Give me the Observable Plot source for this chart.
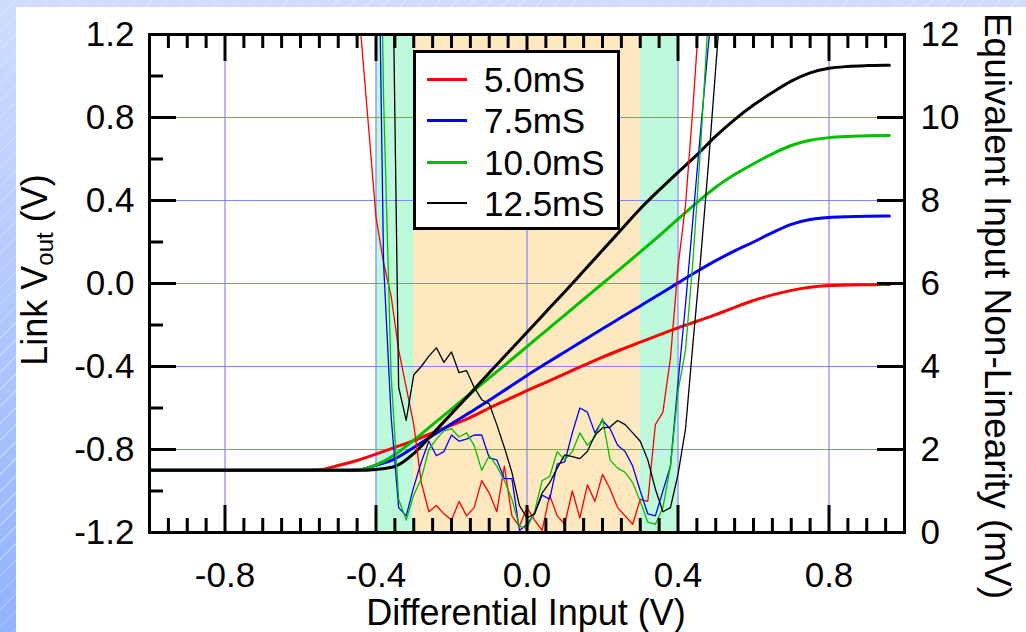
<!DOCTYPE html>
<html>
<head>
<meta charset="utf-8">
<script src="https://cdn.jsdelivr.net/npm/d3@7"></script>
<script src="https://cdn.jsdelivr.net/npm/@observablehq/plot@0.6"></script>
<style>
  html, body { margin: 0; padding: 0; }
  body {
    width: 1026px; height: 632px; overflow: hidden; position: relative;
    background:
      repeating-linear-gradient(135deg, rgba(255,255,255,0) 0 11px, rgba(255,255,255,0.35) 11px 12px),
      linear-gradient(#cfdcfd, #93b2fd);
    font-family: "Liberation Sans", Arial, Helvetica, sans-serif;
    color: #000;
  }
  #chart { position: absolute; left: 16px; top: 7px; }
  .title { position: absolute; white-space: nowrap; font-size: 36px; line-height: 36px; }
  .title sub { font-size: 24px; vertical-align: -6px; line-height: 0; }
  #legend {
    position: absolute; left: 413px; top: 50px; width: 207px; height: 180px;
    box-sizing: border-box; border: 3px solid #000; background: #fff;
  }
  .sw { position: absolute; left: 427px; width: 40px; }
  .lt { position: absolute; left: 484px; font-size: 35px; line-height: 35px; white-space: nowrap; }
</style>
</head>
<body>
<div id="chart"></div>

<div class="title" style="left:526px; top:613px; transform:translate(-50%,-50%);">Differential Input (V)</div>
<div class="title" style="left:35px; top:270px; transform:translate(-50%,-50%) rotate(-90deg);">Link V<sub>out</sub> (V)</div>
<div class="title" style="left:997px; top:306px; font-size:37px; transform:translate(-50%,-50%) rotate(90deg);">Equivalent Input Non-Linearity (mV)</div>

<div id="legend"></div>
<div id="legend-rows"></div>

<script>
// Conductance settings, one colour per setting
const seriesNames = ["5.0mS", "7.5mS", "10.0mS", "12.5mS"];
const seriesColors = ["#ff0000", "#0000ff", "#00c000", "#000000"];

// Link output voltage (V) against differential input (V) — left axis
const vinOut = [-1.0, -0.95, -0.9, -0.85, -0.8, -0.75, -0.7, -0.65, -0.6, -0.55, -0.5, -0.45, -0.4, -0.35, -0.3, -0.25, -0.2, -0.15, -0.1, -0.05,
  0, 0.05, 0.1, 0.15, 0.2, 0.25, 0.3, 0.35, 0.4, 0.45, 0.5, 0.55, 0.6, 0.65, 0.7, 0.75, 0.8, 0.85, 0.9, 0.95, 0.96];
const vout5_0 = [-0.9, -0.9, -0.9, -0.9, -0.9, -0.9, -0.9, -0.9, -0.9, -0.897, -0.877, -0.853, -0.822, -0.79, -0.757, -0.72, -0.683, -0.645, -0.6, -0.558,
  -0.516, -0.476, -0.435, -0.395, -0.355, -0.318, -0.283, -0.248, -0.214, -0.182, -0.15, -0.115, -0.082, -0.055, -0.033, -0.018, -0.01, -0.007, -0.006, -0.005, -0.005];
const vout7_5 = [-0.9, -0.9, -0.9, -0.9, -0.9, -0.9, -0.9, -0.9, -0.9, -0.9, -0.9, -0.899, -0.876, -0.845, -0.79, -0.733, -0.676, -0.62, -0.563, -0.503,
  -0.443, -0.386, -0.33, -0.274, -0.218, -0.163, -0.108, -0.053, 0.003, 0.058, 0.11, 0.157, 0.2, 0.245, 0.285, 0.308, 0.318, 0.322, 0.324, 0.325, 0.325];
const vout10_0 = [-0.9, -0.9, -0.9, -0.9, -0.9, -0.9, -0.9, -0.9, -0.9, -0.9, -0.9, -0.899, -0.874, -0.825, -0.755, -0.68, -0.605, -0.53, -0.455, -0.38,
  -0.304, -0.228, -0.152, -0.076, 0.0, 0.075, 0.152, 0.23, 0.31, 0.39, 0.464, 0.525, 0.577, 0.625, 0.665, 0.69, 0.703, 0.709, 0.712, 0.713, 0.713];
const vout12_5 = [-0.9, -0.9, -0.9, -0.9, -0.9, -0.9, -0.9, -0.9, -0.9, -0.9, -0.9, -0.9, -0.896, -0.882, -0.82, -0.725, -0.627, -0.53, -0.43, -0.333,
  -0.235, -0.137, -0.04, 0.06, 0.16, 0.26, 0.36, 0.45, 0.536, 0.62, 0.71, 0.79, 0.86, 0.92, 0.975, 1.015, 1.037, 1.046, 1.05, 1.052, 1.052];

// Equivalent input non-linearity (mV) — right axis; null where not measured
const vinNL = [-0.46, -0.44, -0.42, -0.40, -0.38, -0.36, -0.34, -0.32, -0.30, -0.28, -0.26, -0.24, -0.22, -0.20, -0.18, -0.16, -0.14, -0.12, -0.10, -0.08,
  -0.06, -0.04, -0.02, 0.00, 0.02, 0.04, 0.06, 0.08, 0.10, 0.12, 0.14, 0.16, 0.18, 0.20, 0.22, 0.24, 0.26, 0.28, 0.30, 0.32,
  0.34, 0.36, 0.38, 0.40, 0.42, 0.44, 0.46, 0.48, 0.50, 0.52];
const nl5_0 = [14, 12, 9.8, 7.6, 6.5, 5.7, 4.4, 3.5, 2.6, 1.2, 0.5, 0.65, 0.45, 0.3, 0.75, 0.4, 0.6, 1.25, 0.95, 0.5,
  1.6, 0.4, 0.15, 0.6, 0.3, 0.05, 0.9, 0.4, 0.2, 1.0, 0.35, 1.15, 0.75, 1.4, 1.05, 0.6, 0.4, 0.2, 0.8, 0.75,
  2.6, 2.9, 4.2, 6.4, 7.9, 10.3, 13, null, null, null];
const nl7_5 = [null, null, null, 19, 6.5, 2.8, 0.6, 0.4, 1.1, 1.7, 2.2, 1.85, 1.95, 2.35, 2.2, 2.25, 2.35, 2.35, 1.8, 1.75,
  1.3, 1.3, 0.05, 0.2, 0.45, 0.9, 0.8, 1.65, 1.7, 2.4, 3.0, 2.9, 2.4, 2.7, 2.5, 2.1, 1.95, 1.6, 1.0, 0.45,
  0.4, 1.0, 1.6, 3.6, 5.5, 7.6, 9.7, 11.7, 13.5, null];
const nl10_0 = [null, null, null, 22, 10.5, 3.8, 0.8, 0.3, 0.9, 1.3, 2.0, 2.25, 2.45, 2.5, 2.3, 2.4, 2.1, 1.5, 1.85, 1.6,
  1.25, 0.8, 0.15, 0.1, 0.5, 1.25, 1.35, 1.95, 1.75, 1.95, 2.4, 2.1, 2.3, 2.75, 1.75, 1.55, 1.45, 1.2, 0.75, 0.25,
  0.2, 0.6, 1.6, 3.4, 4.4, 6.6, 9.3, 12.4, 14, null];
const nl12_5 = [null, null, null, null, null, 16.6, 3.5, 2.7, 3.8, 4.0, 4.25, 4.45, 4.1, 4.35, 3.85, 3.9, 3.5, 3.2, 3.1, 2.6,
  2.05, 1.45, 0.65, 0.35, 0.45, 0.95, 1.2, 1.55, 1.87, 1.83, 1.78, 1.95, 2.35, 2.52, 2.54, 2.7, 2.6, 2.4, 2.2, 1.75,
  1.05, 0.5, 0.6, 1.4, 2.5, 4.6, 6.6, 8.8, 11.2, 13.6];

// Shaded input ranges
const bandEdges = [-0.4, -0.3, 0.3, 0.4];
const bandColors = ["#bff9dc", "#fee8c0", "#bff9dc"];

// Axis ticks
const xMajor = [-0.8, -0.4, 0, 0.4, 0.8];
const xMinor = d3.range(-19, 20).map(i => i * 0.05).filter(v => Math.abs(v / 0.4 - Math.round(v / 0.4)) > 1e-6);
const yLabels = [-1.2, -0.8, -0.4, 0, 0.4, 0.8, 1.2];
const yMajor = [-0.8, -0.4, 0, 0.4, 0.8];
const yMinor = [-1.0, -0.6, -0.2, 0.2, 0.6, 1.0];
const mvTicks = [0, 2, 4, 6, 8, 10, 12];
const mvLongTicks = [2, 4, 6, 8, 10];

// mV on the right axis shares the left axis' pixel range: 0 mV ↔ -1.2 V, 12 mV ↔ 1.2 V
const mvToV = mv => -1.2 + mv * 0.2;

const voutSeries = [vout5_0, vout7_5, vout10_0, vout12_5];
const nlSeries = [nl5_0, nl7_5, nl10_0, nl12_5];

const voutRows = voutSeries.map(vals => vals.map((v, i) => ({x: vinOut[i], y: v})));
const nlRows = nlSeries.map(vals => vals.map((v, i) => ({x: vinNL[i], mv: v})).filter(d => d.mv != null));
const bands = bandColors.map((c, i) => ({x1: bandEdges[i], x2: bandEdges[i + 1], fill: c}));

const W = 1010, H = 625;
const mL = 133, mR = 122, mT = 27, mB = 100;
const fw = W - mL - mR, fh = H - mT - mB;
const longTick = 27, shortTick = 14;
const gridColor = "#8484ff";

const plot = Plot.plot({
  width: W, height: H,
  marginLeft: mL, marginRight: mR, marginTop: mT, marginBottom: mB,
  x: {domain: [-1, 1]},
  y: {domain: [-1.2, 1.2]},
  style: {background: "#fff", fontFamily: "'Liberation Sans', Arial, sans-serif", fontSize: "35px", color: "#000"},
  marks: [
    ...bands.map(b => Plot.rect([b], {x1: "x1", x2: "x2", y1: -1.2, y2: 1.2, fill: b.fill})),
    Plot.ruleX(xMajor, {stroke: gridColor, strokeWidth: 1.2}),
    Plot.ruleY(yMajor, {stroke: gridColor, strokeWidth: 1.2}),
    ...voutRows.map((rows, i) => Plot.line(rows, {x: "x", y: "y", stroke: seriesColors[i], strokeWidth: 3, curve: "monotone-x"})),
    ...nlRows.map((rows, i) => Plot.line(rows, {x: "x", y: d => mvToV(d.mv), stroke: seriesColors[i], strokeWidth: 1.3, clip: true})),
    // inward ticks, bottom and top
    Plot.ruleX(xMajor, {insetTop: fh - longTick, stroke: "#000", strokeWidth: 3}),
    Plot.ruleX(xMinor, {insetTop: fh - shortTick, stroke: "#000", strokeWidth: 3}),
    Plot.ruleX(xMajor, {insetBottom: fh - longTick, stroke: "#000", strokeWidth: 3}),
    Plot.ruleX(xMinor, {insetBottom: fh - shortTick, stroke: "#000", strokeWidth: 3}),
    // inward ticks, left (V) and right (mV)
    Plot.ruleY(yMajor, {insetRight: fw - longTick, stroke: "#000", strokeWidth: 3}),
    Plot.ruleY(yMinor, {insetRight: fw - shortTick, stroke: "#000", strokeWidth: 3}),
    Plot.ruleY(mvLongTicks.map(mvToV), {insetLeft: fw - longTick, stroke: "#000", strokeWidth: 3}),
    Plot.frame({stroke: "#000", strokeWidth: 3}),
    Plot.axisX(xMajor, {tickSize: 0, tickPadding: 30, tickFormat: d => d.toFixed(1), label: null, fontSize: 35}),
    Plot.axisY(yLabels, {anchor: "left", tickSize: 0, tickPadding: 15, tickFormat: d => d.toFixed(1), label: null, fontSize: 35}),
    Plot.axisY(mvTicks.map(mvToV), {anchor: "right", tickSize: 0, tickPadding: 16, tickFormat: (d, i) => String(mvTicks[i]), label: null, fontSize: 35})
  ]
});
document.getElementById("chart").appendChild(plot);

// Legend rows
const legendRowY = [79, 120, 162, 203];
const swatchWidths = [3, 3, 3, 2];
const rowsDiv = document.getElementById("legend-rows");
seriesNames.forEach((name, i) => {
  const sw = document.createElement("div");
  sw.className = "sw";
  sw.style.top = (legendRowY[i] - swatchWidths[i] / 2) + "px";
  sw.style.height = swatchWidths[i] + "px";
  sw.style.background = seriesColors[i];
  rowsDiv.appendChild(sw);
  const t = document.createElement("div");
  t.className = "lt";
  t.style.top = (legendRowY[i] - 17.5) + "px";
  t.textContent = name;
  rowsDiv.appendChild(t);
});
</script>
</body>
</html>
